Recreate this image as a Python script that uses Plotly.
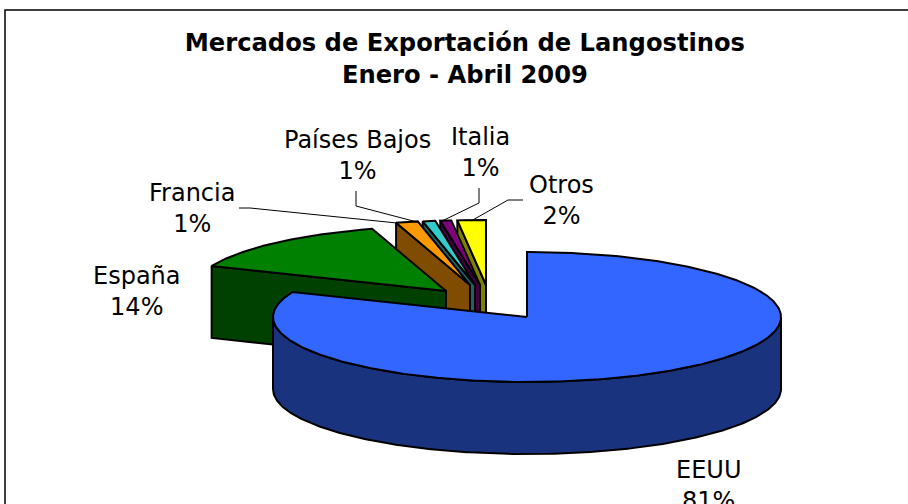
import numpy as np
import plotly.graph_objects as go

# Data
categories = ["EEUU", "España", "Francia", "Países Bajos", "Italia", "Otros"]
values = [81.3, 14.0, 1.4, 0.8, 0.7, 1.8]
title_lines = ["Mercados de Exportación de Langostinos", "Enero - Abril 2009"]

# Style and layout
top_colors = ["#3366ff", "#008000", "#ff9900", "#33cccc", "#800080", "#ffff00"]
wall_colors = ["#1a337f", "#004000", "#804d00", "#1a6666", "#400040", "#808000"]
CX, CY, RX, RY, DEPTH = 527, 317, 254, 65, 72
offset_x = [0, -81, -57, -52, -47, -41]
offset_y = [0, -26, -32, -32, -32, -32]
label_xy = [(708, 485), (137, 291), (192, 208), (357, 155), (480, 152), (561, 200)]
leaders = {
    "Francia": ([239, 250, 397], [208, 208, 223]),
    "Países Bajos": ([356, 356, 417], [191, 206, 222]),
    "Italia": ([479, 479, 442], [188, 203, 221]),
    "Otros": ([523, 508, 471], [200, 200, 221]),
}
FONT = "DejaVu Sans"
LW = 2

total = sum(values)
edges = np.cumsum([0] + values) / total * 2 * np.pi


def arc(i, a0, a1):
    t = np.linspace(a0, a1, max(3, int(abs(a1 - a0) * 90)))
    return (CX + offset_x[i] + RX * np.sin(t), CY + offset_y[i] - RY * np.cos(t))


def poly(xs, ys, fill):
    return go.Scatter(
        x=np.r_[xs, xs[0]], y=np.r_[ys, ys[0]], mode="lines", fill="toself",
        fillcolor=fill, line=dict(color="black", width=LW),
        hoverinfo="skip", showlegend=False,
    )


fig = go.Figure()

# Back to front: small slices first, the main slice last.
for i in range(len(values) - 1, -1, -1):
    a0, a1 = edges[i], edges[i + 1]
    ax, ay = CX + offset_x[i], CY + offset_y[i]
    if i == 0:
        wx, wy = arc(0, np.pi / 2, 3 * np.pi / 2)
        fig.add_trace(poly(np.r_[wx, wx[::-1]], np.r_[wy, wy[::-1] + DEPTH], wall_colors[i]))
    else:
        lx, ly = arc(i, a0, a0)
        ex, ey = [lx[0], ax], [ly[0], ay]
        fig.add_trace(poly(np.r_[ex, ex[::-1]],
                           np.r_[ey, np.array(ey[::-1]) + DEPTH], wall_colors[i]))
    tx, ty = arc(i, a0, a1)
    fig.add_trace(poly(np.r_[ax, tx], np.r_[ay, ty], top_colors[i]))

for xs, ys in leaders.values():
    fig.add_trace(go.Scatter(x=xs, y=ys, mode="lines", line=dict(color="black", width=1),
                             hoverinfo="skip", showlegend=False))

for name, v, (x, y) in zip(categories, values, label_xy):
    fig.add_annotation(x=x, y=y, text=f"{name}<br>{max(1, round(v))}%", showarrow=False,
                       font=dict(family=FONT, size=24, color="black"), align="center")

fig.update_layout(
    width=908, height=504, margin=dict(l=0, r=0, t=0, b=0),
    paper_bgcolor="white", plot_bgcolor="white",
    title=dict(text="<b>" + "<br>".join(title_lines) + "</b>", x=0.512, xanchor="center",
               y=0.898, yanchor="middle", font=dict(family=FONT, size=24.2, color="black")),
    xaxis=dict(range=[0, 908], visible=False, fixedrange=True),
    yaxis=dict(range=[504, 0], visible=False, fixedrange=True),
    shapes=[dict(type="rect", x0=5, y0=10, x1=1000, y1=620, xref="x", yref="y",
                 line=dict(color="black", width=1.5), layer="below")],
)
fig.write_html("out.html", config=dict(displayModeBar=False),
               post_script="document.body.style.margin='0';document.body.style.overflow='hidden';")
